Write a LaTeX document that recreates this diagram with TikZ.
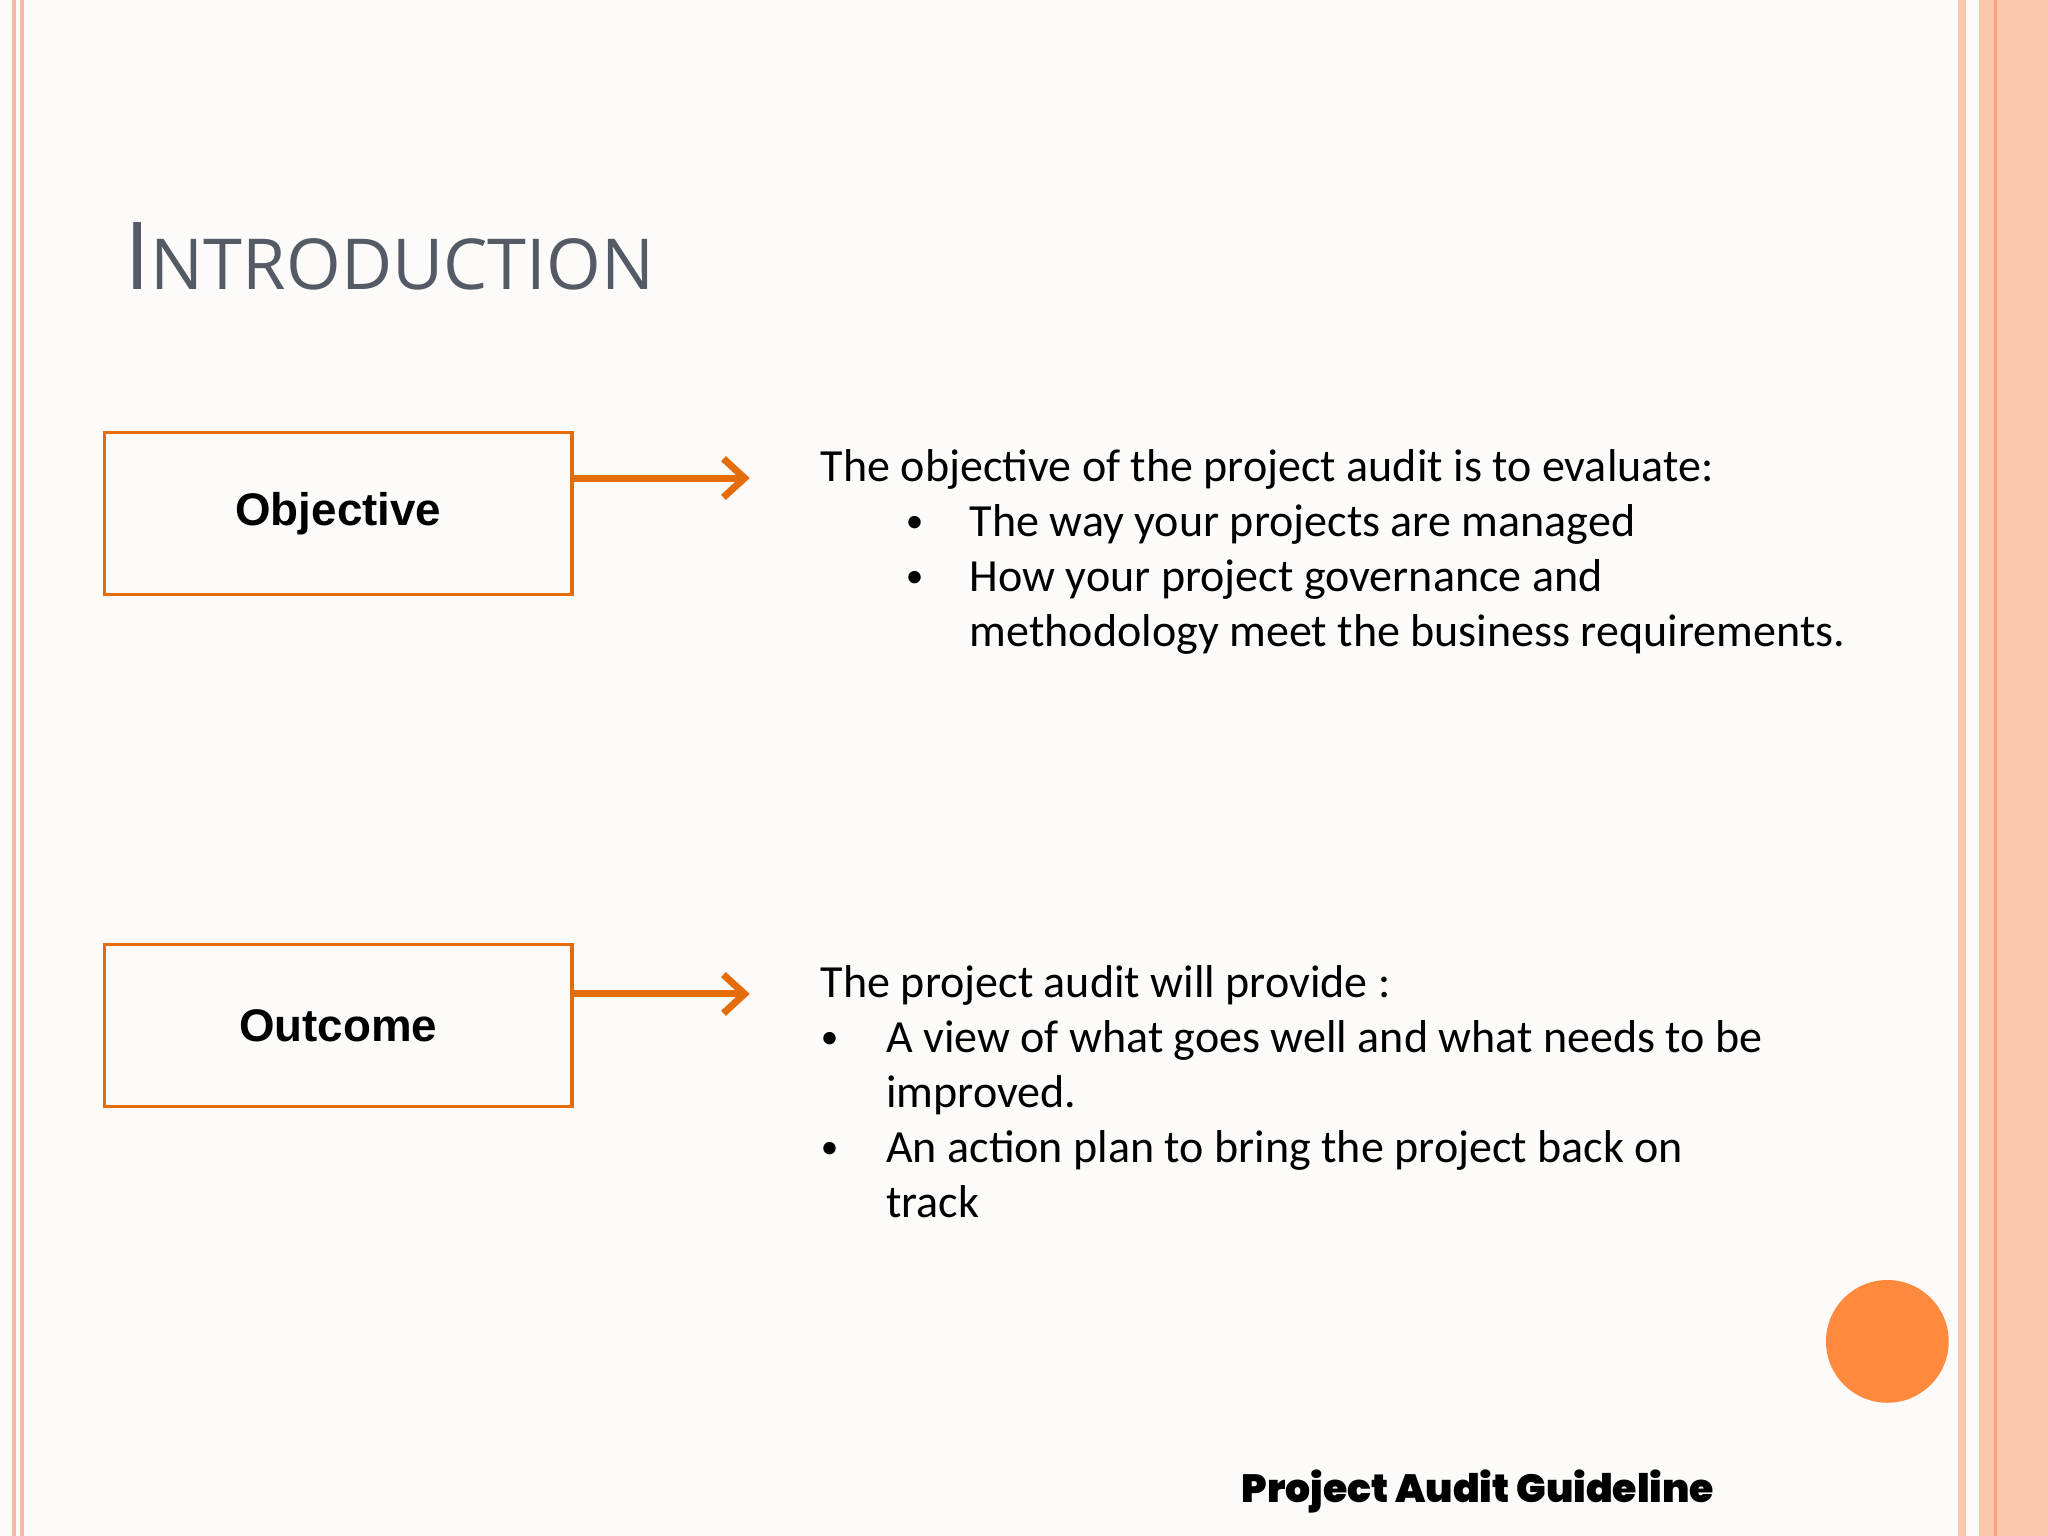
\documentclass[tikz,border=0pt]{standalone}
\usepackage{fontspec}
\setmainfont{Carlito}
\newfontfamily\arialf{Liberation Sans}
\newfontfamily\titlef{Open Sans}
\newfontfamily\footf{Poppins}[UprightFont=* Black, BoldFont=* Black]
\definecolor{bg}{HTML}{FDFBFA}
\definecolor{pinkl}{HTML}{F6B8A8}
\definecolor{band}{HTML}{FBC8AE}
\definecolor{orng}{HTML}{E46C0A}
\definecolor{circ}{HTML}{FF8A3D}
\definecolor{titlec}{HTML}{545B66}
\usetikzlibrary{arrows.meta}
\tikzset{
 lbox/.style={draw=orng, line width=1pt, minimum width=4.676cm, minimum height=1.62cm, inner sep=0pt, font=\arialf\bfseries\fontsize{13}{16}\selectfont},
 arr/.style={draw=orng, line width=2pt, -{Straight Barb[length=6pt,width=11pt]}},
 body/.style={anchor=base west, inner sep=0pt, font=\fontsize{13.1}{16}\selectfont},
 bul/.style={anchor=base west, inner sep=0pt, font=\fontsize{10}{16}\selectfont}
}
\begin{document}
\begin{tikzpicture}[x=0.013061cm,y=-0.013061cm]
\fill[bg] (0,0) rectangle (1568,1176);
\useasboundingbox (0,0) rectangle (1568,1176);
\fill[pinkl] (9,0) rectangle (12,1176);
\fill[pinkl] (15,0) rectangle (18,1176);
\fill[band] (1499,0) rectangle (1505,1176);
\fill[band] (1515,0) rectangle (1568,1176);
\fill[pinkl!70!orange] (1527,0) rectangle (1529,1176);
\node[anchor=base west, inner sep=0pt, text=titlec, font=\titlef\fontsize{26.7}{30}\selectfont] (title) at (95,222) {I\fontsize{20}{24}\selectfont NTRODUCTION};
\node[lbox] (obj) at (259,393) {Objective};
\node[lbox] (out) at (259,785) {Outcome};
\coordinate (oa) at (574,366);
\coordinate (ob) at (574,761);
\draw[arr] (obj.east |- oa) -- (oa);
\draw[arr] (out.east |- ob) -- (ob);
\node[body] (t1) at (628,369) {The objective of the project audit is to evaluate:};
\node[bul] (b1) at (693,408) {\textbullet};
\node[body] (t2) at (742,411) {The way your projects are managed};
\node[bul] (b2) at (693,450) {\textbullet};
\node[body] (t3) at (742,453) {How your project governance and};
\node[body] (t4) at (742,495) {methodology meet the business requirements.};
\node[body] (u1) at (628,764) {The project audit will provide :};
\node[bul] (c1) at (628,803) {\textbullet};
\node[body] (u2) at (678,806) {A view of what goes well and what needs to be};
\node[body] (u3) at (678,848) {improved.};
\node[bul] (c2) at (628,887) {\textbullet};
\node[body] (u4) at (678,890) {An action plan to bring the project back on};
\node[body] (u5) at (678,932) {track};
\fill[circ] (1445,1027) circle (47);
\node[anchor=base east, inner sep=0pt, font=\footf\fontsize{11.2}{14}\selectfont] (foot) at (1313,1150) {Project Audit Guideline};
\end{tikzpicture}
\end{document}
